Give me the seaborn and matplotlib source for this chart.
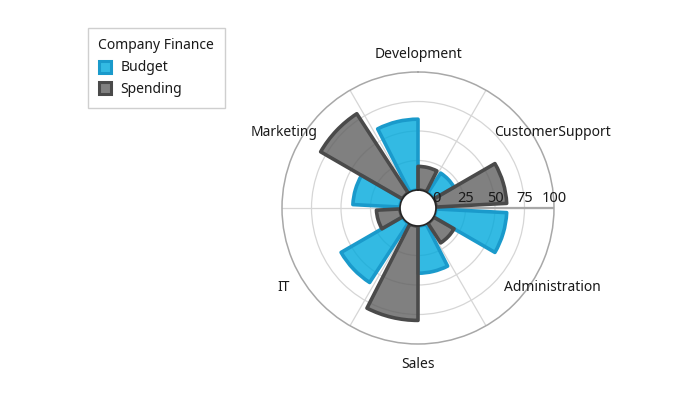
import numpy as np
import pandas as pd
import matplotlib
matplotlib.use("Agg")
import matplotlib.pyplot as plt
import matplotlib.transforms as mtransforms
from matplotlib.lines import Line2D
import seaborn as sns

# ---- data ----
categories = ["Development", "CustomerSupport", "Administration", "Sales", "IT", "Marketing"]
budget = [60, 20, 60, 40, 60, 40]
spending = [20, 60, 20, 80, 20, 80]
series_names = ["Budget", "Spending"]
radial_ticks = [0, 25, 50, 75, 100]
legend_title = "Company Finance"

fill_colors = {"Budget": "#00a9dc", "Spending": "#606060"}
edge_colors = {"Budget": "#1a9acb", "Spending": "#4a4a4a"}
fill_alpha = 0.8

sns.set_theme(style="white")
plt.rcParams["font.family"] = ["Noto Sans", "DejaVu Sans"]
text_color = "#1a1a1a"
fs = 10

fig = plt.figure(figsize=(7, 4), dpi=100)
cx, cy, R = 418, 208, 136
ax = fig.add_axes([(cx - R) / 700, (400 - cy - R) / 400, 2 * R / 700, 2 * R / 400],
                  projection="polar")
ax.set_theta_zero_location("N")
ax.set_theta_direction(-1)

step = 360 / len(categories)
angles = np.deg2rad(np.arange(len(categories)) * step)
df = pd.DataFrame({
    "angle": np.concatenate([angles, angles]),
    "value": budget + spending,
    "series": [series_names[0]] * len(categories) + [series_names[1]] * len(categories),
    "category": categories + categories,
})

sns.barplot(data=df, x="angle", y="value", hue="series", hue_order=series_names,
            native_scale=True, width=0.9, palette=fill_colors, saturation=1,
            errorbar=None, legend=False, ax=ax)

for name, cont in zip(series_names, ax.containers):
    for p in cont.patches:
        p.set_facecolor(matplotlib.colors.to_rgba(fill_colors[name], fill_alpha))
        p.set_edgecolor(edge_colors[name])
        p.set_linewidth(2.6)
        p.set_joinstyle("round")
        p.set_zorder(2)

# radial scale with hole in the middle
ax.set_ylim(0, 100)
hole_px = 18
ax.set_rorigin(-100 * hole_px / (R - hole_px))
ax.set_xlabel("")
ax.set_ylabel("")

# grids
ax.set_axisbelow(True)
ax.set_yticks(radial_ticks[1:-1])
ax.set_yticklabels([])
ax.set_xticks(np.deg2rad(np.arange(len(categories)) * step + step / 2))
ax.set_xticklabels([])
ax.grid(True, color="#d6d6d6", linewidth=0.9)
ax.tick_params(length=0)
ax.spines["polar"].set_color("#a8a8a8")
ax.spines["polar"].set_linewidth(1.1)
for s in ["inner", "start", "end"]:
    if s in ax.spines:
        ax.spines[s].set_visible(False)

# radial axis line (at 3 o'clock)
axis_theta = np.deg2rad(90)
ax.plot([axis_theta, axis_theta], [0, 100], color="#a8a8a8", linewidth=1.6, zorder=1)

# radial tick labels
off = mtransforms.offset_copy(ax.transData, fig=fig, x=0, y=4.5, units="points")
for v in radial_ticks:
    ax.text(axis_theta, v, str(v), ha="center", va="baseline", transform=off,
            fontsize=fs + 0.5, color=text_color, zorder=5)

# category labels
label_r = 100 * (155 - hole_px) / (R - hole_px)
for a, c in zip(angles, categories):
    ax.text(a, label_r, c, ha="center", va="center_baseline", fontsize=fs,
            color=text_color, clip_on=False)

# legend
handles = [Line2D([], [], linestyle="none", marker="s", markersize=9,
                  markerfacecolor=matplotlib.colors.to_rgba(fill_colors[n], fill_alpha),
                  markeredgecolor=edge_colors[n], markeredgewidth=2.2, label=n)
           for n in series_names]
leg = fig.legend(handles=handles, title=legend_title, loc="upper left",
                 bbox_to_anchor=(88 / 700, 1 - 28 / 400), borderaxespad=0,
                 fancybox=False, frameon=True, fontsize=fs, title_fontsize=fs,
                 alignment="left", handlelength=1.0, handletextpad=0.6,
                 labelspacing=0.5, borderpad=0.75)
leg.get_frame().set_edgecolor("#c4c4c4")
leg.get_frame().set_linewidth(1.0)
for t in leg.get_texts():
    t.set_color(text_color)
leg.get_title().set_color(text_color)

fig.savefig("out.png", dpi=100)
